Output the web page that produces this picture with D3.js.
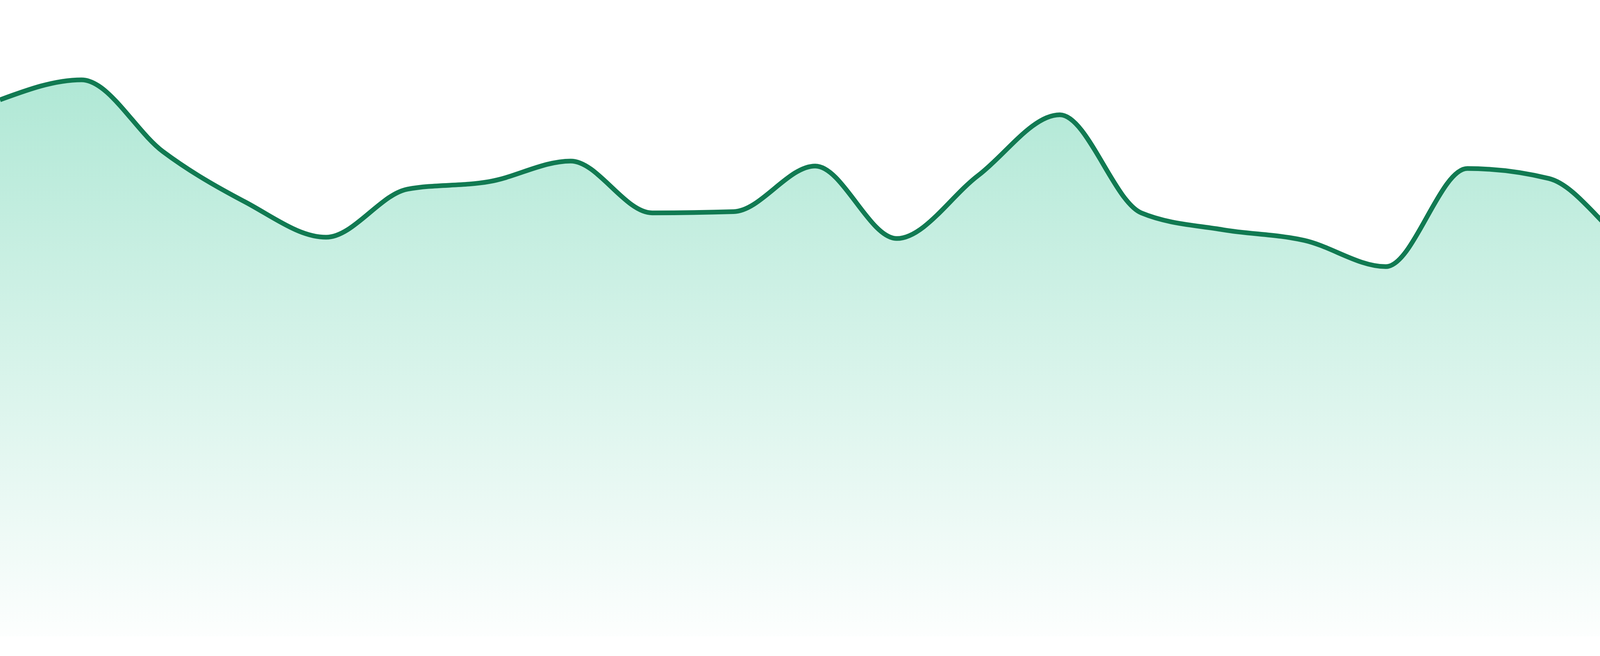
<!DOCTYPE html>
<html>
<head>
<meta charset="utf-8">
<script src="https://cdn.jsdelivr.net/npm/d3@7"></script>
<style>
  html, body { margin: 0; padding: 0; background: #ffffff; }
  svg { display: block; }
</style>
</head>
<body>
<svg id="chart"></svg>
<script>
// ---- data ----
const categories = ["1","2","3","4","5","6","7","8","9","10","11","12",
                    "13","14","15","16","17","18","19","20","21","22","23","24"];
const values = [85.9, 89.1, 77.6, 69.6, 63.9, 71.6, 72.8, 76.1, 67.8, 68.0, 75.3, 63.7,
                73.8, 83.5, 67.8, 65.1, 63.4, 59.2, 74.9, 73.3, 62.4, 56.0, 59.8, 56.1];
const yDomain = [0, 100];

// ---- layout ----
const W = 4800, H = 1680;
const margin = { top: 30, right: 0, bottom: 50, left: 0 };

const svg = d3.select("#chart").attr("width", W).attr("height", H);

const x = d3.scalePoint().domain(categories).range([margin.left, W - margin.right]);
const y = d3.scaleLinear().domain(yDomain).range([H - margin.bottom, margin.top]);

const data = categories.map((c, i) => ({ c, v: values[i] }));

const defs = svg.append("defs");
const grad = defs.append("linearGradient")
  .attr("id", "areaGrad")
  .attr("gradientUnits", "userSpaceOnUse")
  .attr("x1", 0).attr("x2", 0)
  .attr("y1", y(d3.max(values)))
  .attr("y2", y(0));
grad.append("stop").attr("offset", "0%").attr("stop-color", "#10b981").attr("stop-opacity", 0.33);
grad.append("stop").attr("offset", "100%").attr("stop-color", "#10b981").attr("stop-opacity", 0.01);

const area = d3.area()
  .x(d => x(d.c))
  .y0(y(0))
  .y1(d => y(d.v))
  .curve(d3.curveMonotoneX);

const line = d3.line()
  .x(d => x(d.c))
  .y(d => y(d.v))
  .curve(d3.curveMonotoneX);

svg.append("path")
  .datum(data)
  .attr("d", area)
  .attr("fill", "url(#areaGrad)");

svg.append("path")
  .datum(data)
  .attr("d", line)
  .attr("fill", "none")
  .attr("stroke", "#117a52")
  .attr("stroke-width", 12)
  .attr("stroke-linejoin", "round");
</script>
</body>
</html>
